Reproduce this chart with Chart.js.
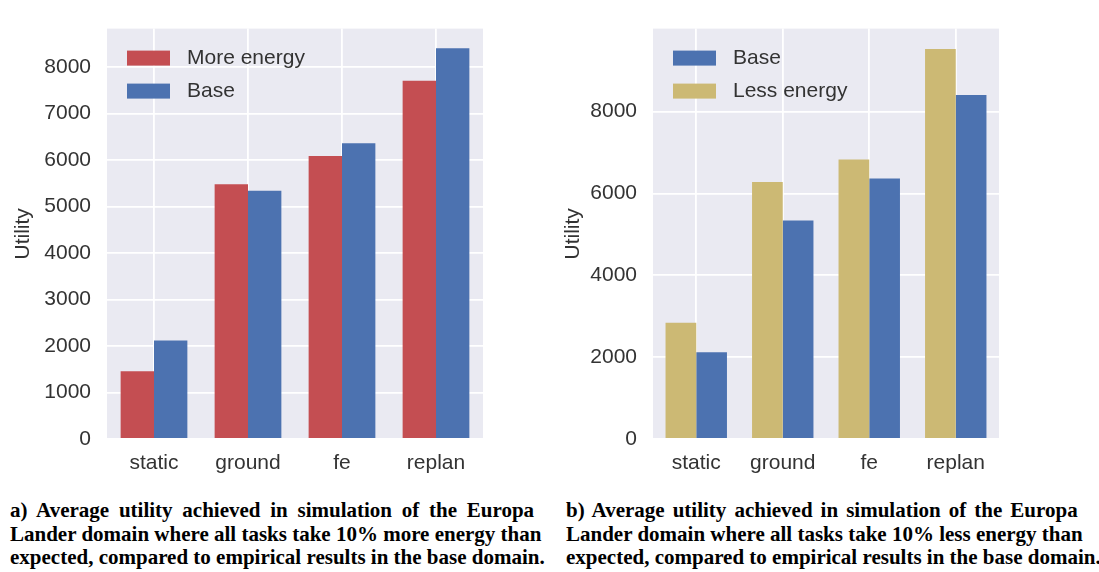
<!DOCTYPE html>
<html>
<head>
<meta charset="utf-8">
<script src="https://cdn.jsdelivr.net/npm/chart.js@4.4.1/dist/chart.umd.min.js"></script>
<style>
    body { margin: 0; background: #fff; width: 1099px; height: 572px; position: relative; overflow: hidden; }
    .chart-box { position: absolute; top: 0; }
    #box-a { left: 0; width: 495px; height: 485px; }
    #box-b { left: 550px; width: 549px; height: 485px; }
    .caption { position: absolute; top: 499px; font-family: "Liberation Serif", "Times New Roman", serif; font-weight: bold; font-size: 21px; line-height: 23.5px; color: #000; }
    .caption div { white-space: nowrap; }
    #cap-a { left: 10px; }
    #cap-b { left: 566px; }
    #cap-a .l1 { word-spacing: 4.5px; }
    #cap-b .l1 { word-spacing: 2.8px; }
</style>
</head>
<body>
<div class="chart-box" id="box-a"><canvas id="chart-a"></canvas></div>
<div class="chart-box" id="box-b"><canvas id="chart-b"></canvas></div>
<div class="caption" id="cap-a">
    <div class="l1">a) Average utility achieved in simulation of the Europa</div>
    <div>Lander domain where all tasks take 10% more energy than</div>
    <div>expected, compared to empirical results in the base domain.</div>
</div>
<div class="caption" id="cap-b">
    <div class="l1">b) Average utility achieved in simulation of the Europa</div>
    <div>Lander domain where all tasks take 10% less energy than</div>
    <div>expected, compared to empirical results in the base domain.</div>
</div>
<script>
const categorias = ['static', 'ground', 'fe', 'replan'];
const maisEnergia = [1460, 5480, 6090, 7710];
const base = [2120, 5340, 6365, 8405];
const menosEnergia = [2840, 6280, 6830, 9530];
const ticksA = [0, 1000, 2000, 3000, 4000, 5000, 6000, 7000, 8000];
const ticksB = [0, 2000, 4000, 6000, 8000];

const COR_VERMELHO = '#C44E52';
const COR_AZUL = '#4C72B0';
const COR_OURO = '#CCB974';
const COR_TEXTO = '#333333';
const FONTE = 'Arial, "Liberation Sans", sans-serif';

// fundo cinza-azulado estilo seaborn
const fundoPlugin = {
    id: 'fundo',
    beforeDraw(chart) {
        const { ctx, chartArea } = chart;
        ctx.save();
        ctx.fillStyle = '#EAEAF2';
        ctx.fillRect(chartArea.left, chartArea.top, chartArea.right - chartArea.left, chartArea.bottom - chartArea.top);
        ctx.restore();
    }
};

// legenda desenhada dentro da área do gráfico
const legendaPlugin = {
    id: 'legendaInterna',
    afterDraw(chart, args, opts) {
        const { ctx, chartArea } = chart;
        const ordem = opts.ordem || chart.data.datasets.map((d, i) => i);
        ctx.save();
        ctx.font = `21px ${FONTE}`;
        ctx.textBaseline = 'middle';
        ordem.forEach((idx, i) => {
            const ds = chart.data.datasets[idx];
            const y = chartArea.top + 29 + i * 33;
            ctx.fillStyle = ds.backgroundColor;
            ctx.fillRect(chartArea.left + 20, y - 7, 43, 15);
            ctx.fillStyle = COR_TEXTO;
            ctx.fillText(ds.label, chartArea.left + 80, y + 1);
        });
        ctx.restore();
    }
};

function criarGrafico(id, datasets, ordemLegenda, maxY, listaTicks, padding, larguraY) {
    const ctx = document.getElementById(id).getContext('2d');
    return new Chart(ctx, {
        type: 'bar',
        data: { labels: categorias, datasets: datasets },
        options: {
            responsive: true,
            maintainAspectRatio: false,
            animation: false,
            layout: { padding: padding },
            plugins: {
                legend: { display: false },
                tooltip: { enabled: false },
                legendaInterna: { ordem: ordemLegenda }
            },
            datasets: { bar: { categoryPercentage: 0.71, barPercentage: 1.0, borderWidth: 0 } },
            scales: {
                x: {
                    grid: { color: '#FFFFFF', lineWidth: 1.8, offset: false, drawTicks: false },
                    border: { display: false },
                    ticks: { color: COR_TEXTO, font: { family: FONTE, size: 21 }, padding: 12 },
                    afterFit(scale) { scale.height = 46; }
                },
                y: {
                    min: 0,
                    max: maxY,
                    afterBuildTicks(scale) { scale.ticks = listaTicks.map(v => ({ value: v })); },
                    grid: { color: '#FFFFFF', lineWidth: 1.8, drawTicks: false },
                    border: { display: false },
                    ticks: {
                        color: COR_TEXTO,
                        font: { family: FONTE, size: 21 },
                        padding: 16,
                        callback: (v) => String(v)
                    },
                    title: { display: true, text: 'Utility', color: COR_TEXTO, font: { family: FONTE, size: 21 }, padding: { top: 11, bottom: 0 } },
                    afterFit(scale) { scale.width = larguraY; }
                }
            }
        },
        plugins: [fundoPlugin, legendaPlugin]
    });
}

criarGrafico('chart-a', [
    { label: 'More energy', data: maisEnergia, backgroundColor: COR_VERMELHO },
    { label: 'Base', data: base, backgroundColor: COR_AZUL }
], [0, 1], 8830, ticksA, { top: 7, right: 12, left: 0, bottom: 0 }, 107);

criarGrafico('chart-b', [
    { label: 'Less energy', data: menosEnergia, backgroundColor: COR_OURO },
    { label: 'Base', data: base, backgroundColor: COR_AZUL }
], [1, 0], 10030, ticksB, { top: 16, right: 100, left: 0, bottom: 0 }, 103);
</script>
</body>
</html>
